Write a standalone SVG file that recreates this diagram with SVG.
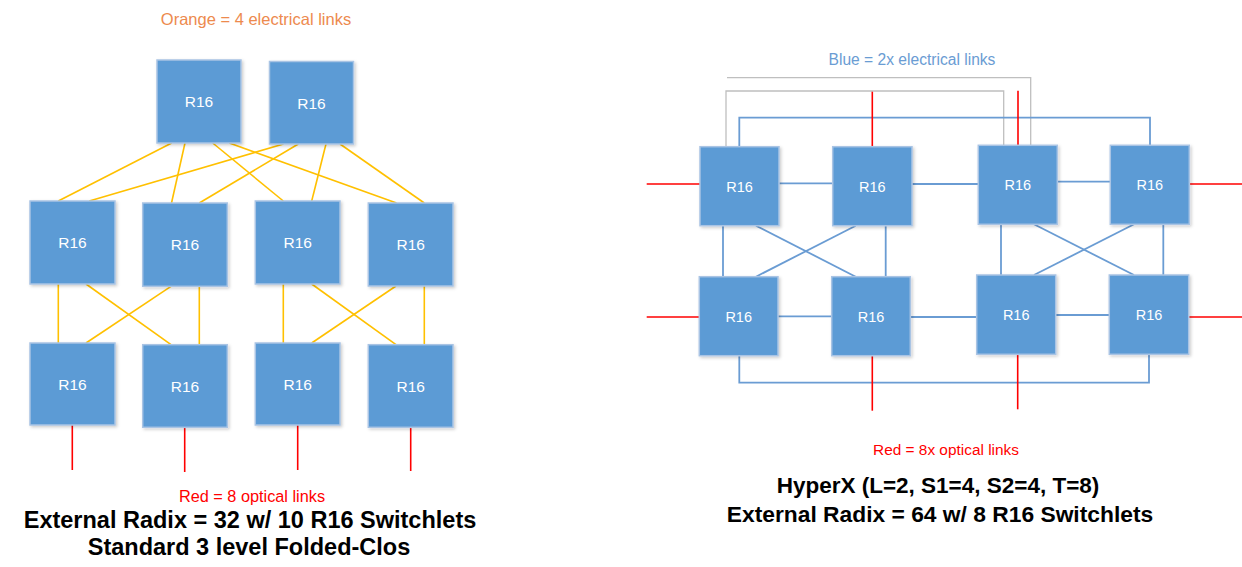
<svg xmlns="http://www.w3.org/2000/svg" width="1242" height="567" viewBox="0 0 1242 567">
  <defs>
    <filter id="shadow" x="-10%" y="-10%" width="130%" height="130%">
      <feDropShadow dx="1.5" dy="1.5" stdDeviation="1.5" flood-color="#000" flood-opacity="0.2"/>
    </filter>
  </defs>
  <style>
    .box { fill: #5B9BD5; stroke: #A9C4E4; stroke-width: 1.5; filter: url(#shadow); }
    .lbl { font-family: "Liberation Sans", Arial, sans-serif; fill: #FFFFFF; text-anchor: middle; }
    .lb1 { font-size: 15.5px; }
    .lb2 { font-size: 14.5px; }
    .orange { stroke: #FFC000; stroke-width: 1.6; fill: none; }
    .blue { stroke: #6A9CD3; stroke-width: 1.8; fill: none; }
    .grey { stroke: #BFBFBF; stroke-width: 1.3; fill: none; }
    .red { stroke: #FF0000; stroke-width: 1.6; fill: none; }
    .cap { font-family: "Liberation Sans", Arial, sans-serif; text-anchor: middle; }
    .title { font-family: "Liberation Sans", Arial, sans-serif; font-weight: bold; fill: #000000; text-anchor: middle; }
  </style>

  <rect width="1242" height="567" fill="#FFFFFF"/>

  <!-- captions -->
  <text class="cap" x="256" y="25" font-size="16.5" fill="#ED8A4E">Orange = 4 electrical links</text>
  <text class="cap" x="252" y="502" font-size="16.3" fill="#FF0000">Red = 8 optical links</text>
  <text class="title" x="250" y="528" font-size="23.5">External Radix = 32 w/ 10 R16 Switchlets</text>
  <text class="title" x="249" y="554.5" font-size="23.5">Standard 3 level Folded-Clos</text>

  <text class="cap" x="912" y="65" font-size="15.6" fill="#6A9CD3">Blue = 2x electrical links</text>
  <text class="cap" x="946" y="455" font-size="15.4" fill="#FF0000">Red = 8x optical links</text>
  <text class="title" x="938" y="493" font-size="22.5">HyperX (L=2, S1=4, S2=4, T=8)</text>
  <text class="title" x="940" y="522" font-size="22.8">External Radix = 64 w/ 8 R16 Switchlets</text>

  <!-- links -->
  <g id="connectors">
    <!-- folded-Clos: spine to leaf -->
    <line class="orange" x1="171.7" y1="143" x2="58.3" y2="201"/>
    <line class="orange" x1="185" y1="143" x2="171.5" y2="203"/>
    <line class="orange" x1="212.7" y1="143" x2="283.3" y2="201"/>
    <line class="orange" x1="229.3" y1="143" x2="396.5" y2="203"/>
    <line class="orange" x1="283.5" y1="144" x2="89.3" y2="201"/>
    <line class="orange" x1="298.3" y1="144" x2="199.3" y2="203"/>
    <line class="orange" x1="326" y1="144" x2="311.7" y2="201"/>
    <line class="orange" x1="340" y1="144" x2="424.3" y2="203"/>
    <!-- folded-Clos: middle to bottom -->
    <line class="orange" x1="58.3" y1="284" x2="58.3" y2="343"/>
    <line class="orange" x1="86" y1="284" x2="171" y2="344.7"/>
    <line class="orange" x1="171" y1="286.3" x2="86" y2="343"/>
    <line class="orange" x1="199.3" y1="286.3" x2="199.3" y2="344.7"/>
    <line class="orange" x1="283.3" y1="284" x2="283.3" y2="343"/>
    <line class="orange" x1="311.7" y1="284" x2="396" y2="344.7"/>
    <line class="orange" x1="396" y1="286" x2="311.7" y2="343"/>
    <line class="orange" x1="424.3" y1="286" x2="424.3" y2="344.7"/>
    <!-- folded-Clos: optical ports -->
    <line class="red" x1="72.3" y1="425" x2="72.3" y2="470"/>
    <line class="red" x1="184.7" y1="427" x2="184.7" y2="472"/>
    <line class="red" x1="297.7" y1="425" x2="297.7" y2="470"/>
    <line class="red" x1="410.7" y1="427" x2="410.7" y2="471"/>

    <!-- HyperX: long-range links -->
    <polyline class="grey" points="727,77.7 1030.7,77.7 1030.7,150"/>
    <polyline class="grey" points="726,146 726,91 1003.7,91 1003.7,145"/>
    <polyline class="blue" points="739.3,146 739.3,117.7 1150,117.7 1150,145.3"/>
    <polyline class="blue" points="739.3,355.7 739.3,382.7 1149,382.7 1149,354.3"/>
    <!-- HyperX: row links -->
    <line class="blue" x1="779" y1="183.3" x2="832.7" y2="183.3"/>
    <line class="blue" x1="912" y1="184" x2="978.3" y2="184"/>
    <line class="blue" x1="1057.3" y1="181.7" x2="1110.3" y2="181.7"/>
    <line class="blue" x1="778" y1="316.3" x2="831.7" y2="316.3"/>
    <line class="blue" x1="910.3" y1="317" x2="976.7" y2="317"/>
    <line class="blue" x1="1055.7" y1="315" x2="1109.3" y2="315"/>
    <!-- HyperX: column links -->
    <line class="blue" x1="723" y1="225.7" x2="723" y2="276.7"/>
    <line class="blue" x1="756" y1="225.7" x2="855.7" y2="276.7"/>
    <line class="blue" x1="855.7" y1="225.7" x2="756" y2="276.7"/>
    <line class="blue" x1="885.7" y1="225.7" x2="885.7" y2="276.7"/>
    <line class="blue" x1="1001" y1="224.3" x2="1001" y2="275"/>
    <line class="blue" x1="1034" y1="224.3" x2="1134" y2="275"/>
    <line class="blue" x1="1134" y1="224.3" x2="1034" y2="275"/>
    <line class="blue" x1="1163.3" y1="224.3" x2="1163.3" y2="275"/>
    <!-- HyperX: optical ports -->
    <line class="red" x1="872.3" y1="91.7" x2="872.3" y2="146.7"/>
    <line class="red" x1="1018" y1="90.7" x2="1018" y2="145.3"/>
    <line class="red" x1="646.7" y1="184" x2="700" y2="184"/>
    <line class="red" x1="1189.3" y1="184" x2="1242" y2="184"/>
    <line class="red" x1="646.7" y1="317" x2="699.3" y2="317"/>
    <line class="red" x1="1188.7" y1="317" x2="1242" y2="317"/>
    <line class="red" x1="872.3" y1="355.7" x2="872.3" y2="410.7"/>
    <line class="red" x1="1017.7" y1="354.3" x2="1017.7" y2="409.3"/>
  </g>

  <!-- folded-Clos switchlets -->
  <g id="clos-spine-1"><rect class="box" x="157" y="60" width="84" height="83"/><text class="lbl lb1" x="199" y="107.3">R16</text></g>
  <g id="clos-spine-2"><rect class="box" x="269.5" y="61.5" width="84" height="82.5"/><text class="lbl lb1" x="311.5" y="108.5">R16</text></g>
  <g id="clos-mid-1"><rect class="box" x="30" y="201" width="85" height="83"/><text class="lbl lb1" x="72.5" y="248.2">R16</text></g>
  <g id="clos-mid-2"><rect class="box" x="142.7" y="203" width="84.6" height="83.3"/><text class="lbl lb1" x="185" y="250.3">R16</text></g>
  <g id="clos-mid-3"><rect class="box" x="255.3" y="201" width="84.7" height="83"/><text class="lbl lb1" x="297.7" y="248.2">R16</text></g>
  <g id="clos-mid-4"><rect class="box" x="368.3" y="203" width="84.7" height="83"/><text class="lbl lb1" x="410.7" y="250.3">R16</text></g>
  <g id="clos-leaf-1"><rect class="box" x="30" y="343" width="85" height="82"/><text class="lbl lb1" x="72.5" y="389.7">R16</text></g>
  <g id="clos-leaf-2"><rect class="box" x="142.7" y="344.7" width="84.6" height="82.6"/><text class="lbl lb1" x="185" y="391.6">R16</text></g>
  <g id="clos-leaf-3"><rect class="box" x="255.3" y="343" width="84.7" height="82"/><text class="lbl lb1" x="297.7" y="389.7">R16</text></g>
  <g id="clos-leaf-4"><rect class="box" x="368.3" y="344.7" width="84.7" height="82.6"/><text class="lbl lb1" x="410.7" y="391.6">R16</text></g>

  <!-- HyperX switchlets -->
  <g id="hx-a1"><rect class="box" x="700" y="146.7" width="79" height="79"/><text class="lbl lb2" x="739.5" y="191.5">R16</text></g>
  <g id="hx-a2"><rect class="box" x="832.7" y="146.7" width="79.3" height="79"/><text class="lbl lb2" x="872.3" y="191.5">R16</text></g>
  <g id="hx-a3"><rect class="box" x="978.3" y="145.3" width="79" height="79"/><text class="lbl lb2" x="1017.8" y="190">R16</text></g>
  <g id="hx-a4"><rect class="box" x="1110.3" y="145.3" width="79" height="79"/><text class="lbl lb2" x="1149.8" y="190">R16</text></g>
  <g id="hx-b1"><rect class="box" x="699.3" y="276.7" width="78.7" height="79"/><text class="lbl lb2" x="738.7" y="321.5">R16</text></g>
  <g id="hx-b2"><rect class="box" x="831.7" y="276.7" width="78.6" height="79"/><text class="lbl lb2" x="871" y="321.5">R16</text></g>
  <g id="hx-b3"><rect class="box" x="976.7" y="275" width="79" height="79.3"/><text class="lbl lb2" x="1016.2" y="320">R16</text></g>
  <g id="hx-b4"><rect class="box" x="1109.3" y="275" width="79.4" height="79.3"/><text class="lbl lb2" x="1149" y="320">R16</text></g>
</svg>
